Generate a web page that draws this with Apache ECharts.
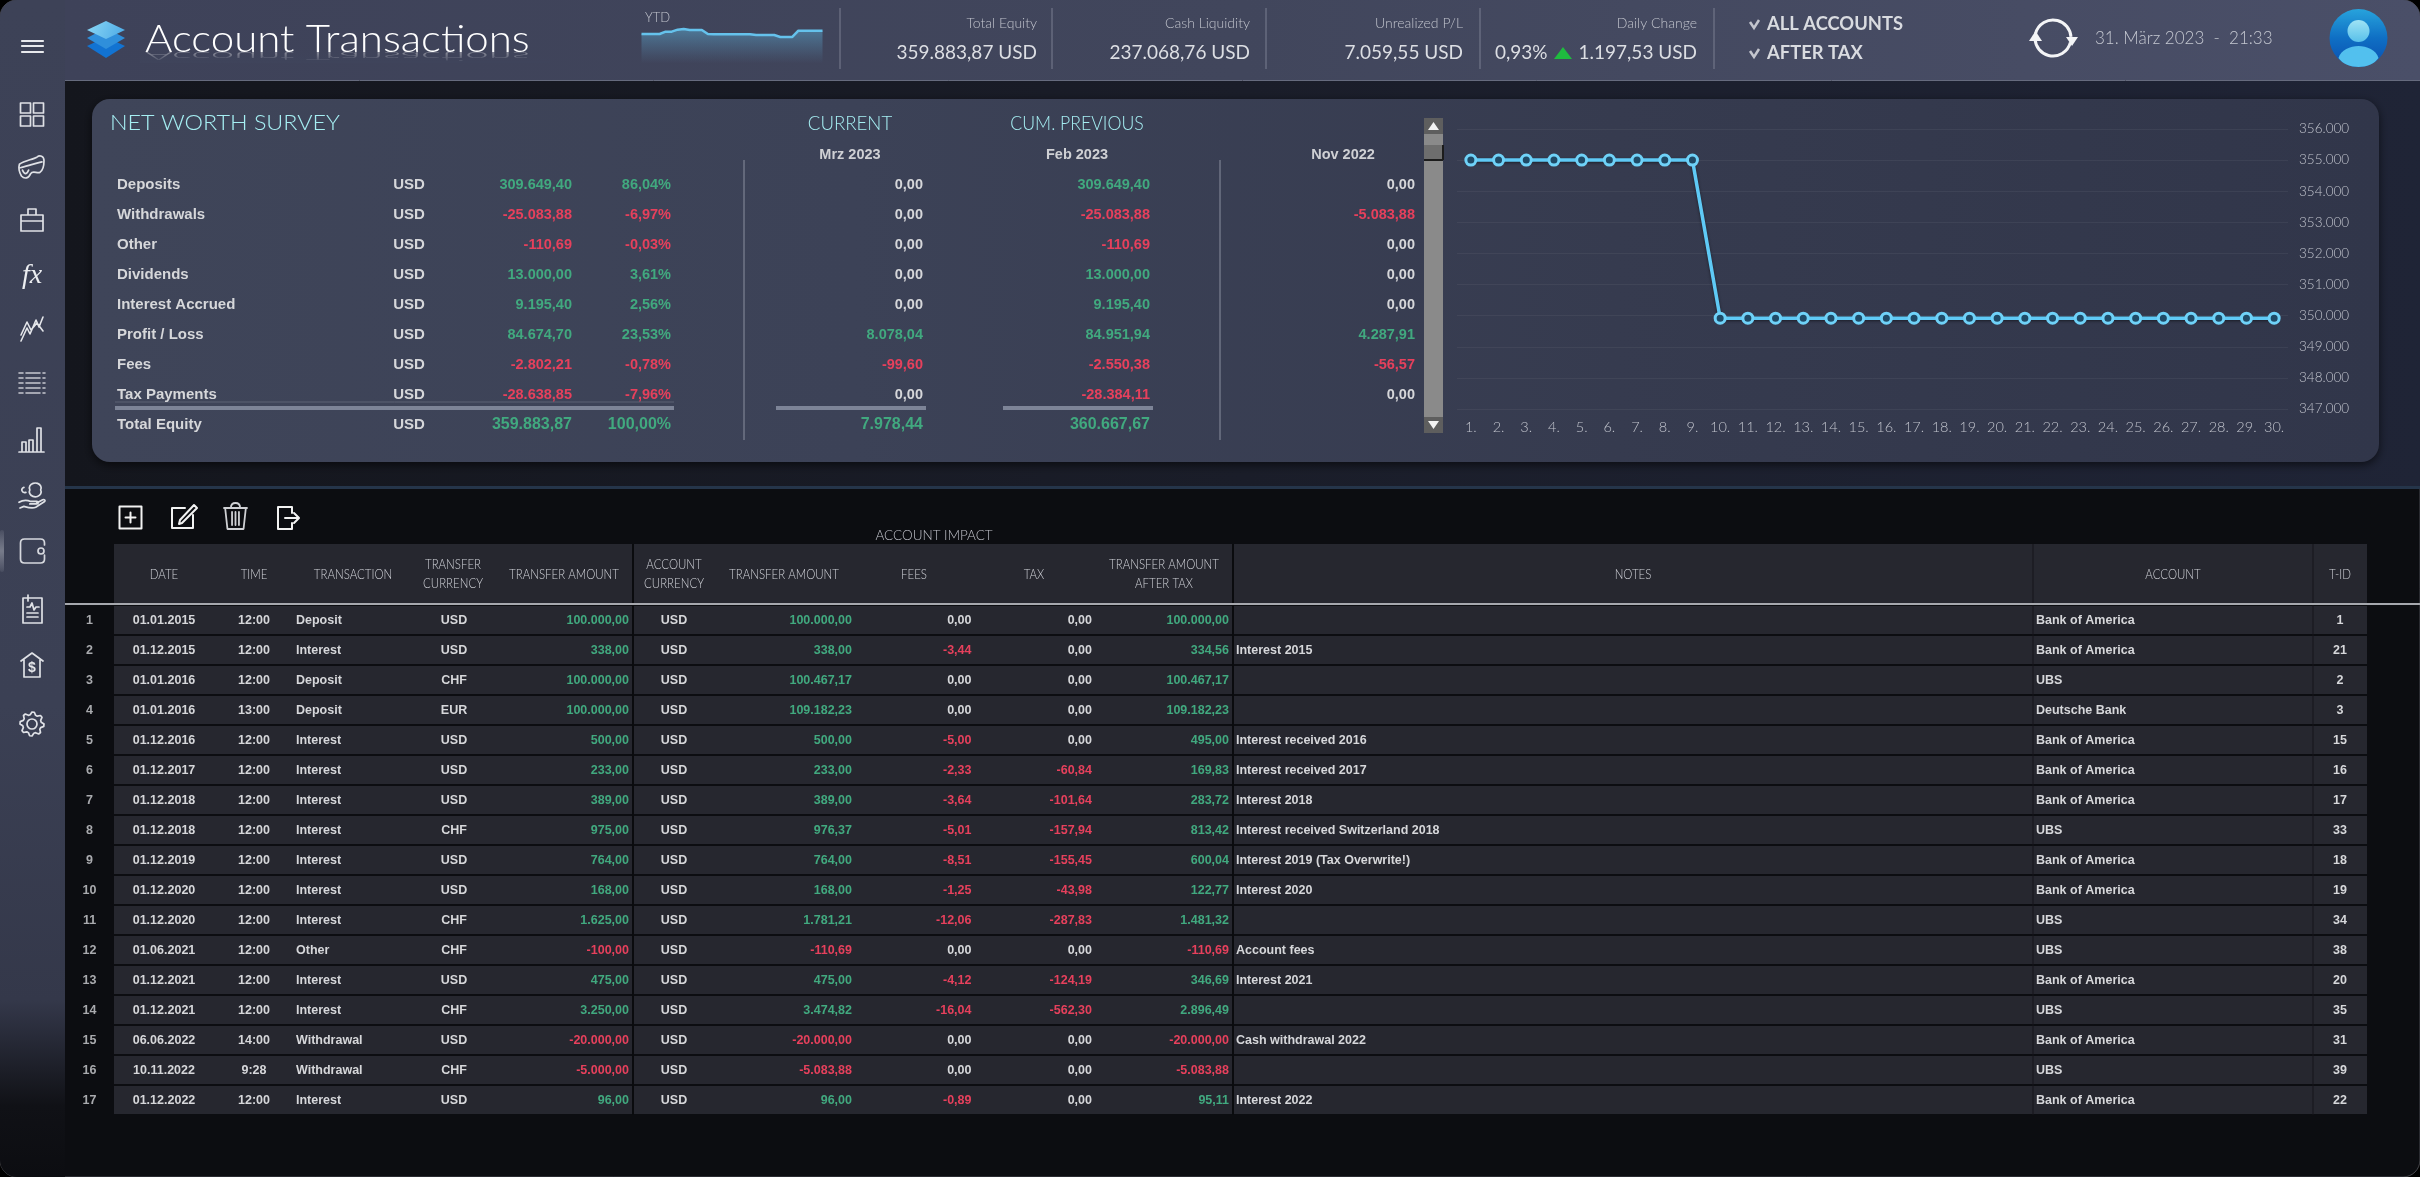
<!DOCTYPE html>
<html>
<head>
<meta charset="utf-8">
<style>
html, body { margin: 0; padding: 0; background: #000; }
#app { width: 2420px; height: 1177px; }
</style>
<script src="https://cdn.jsdelivr.net/npm/echarts@6/dist/echarts.min.js"></script>
</head>
<body>
<div id="app"></div>
<script>
// ---- data ----
var kpiLabels = ['Total Equity', 'Cash Liquidity', 'Unrealized P/L', 'Daily Change'];
var kpiValues = ['359.883,87 USD', '237.068,76 USD', '7.059,55 USD', '1.197,53 USD'];
var dailyPct = '0,93%';
var filterLabels = ['ALL ACCOUNTS', 'AFTER TAX'];
var dateText = '31. März 2023  -  21:33';

var ytdDays = ['1', '2', '3', '4', '5', '6', '7', '8', '9', '10', '11', '12', '13', '14', '15', '16', '17', '18', '19', '20', '21', '22', '23', '24', '25', '26', '27', '28', '29', '30', '31'];
var ytdValues = [353, 353, 353, 353, 360, 360, 366, 368, 365, 365, 365, 353, 352, 352, 352, 352, 352, 352, 352, 350, 350, 350, 350, 344, 344, 344, 363, 363, 363, 363, 363];

var surveyLabels = ['Deposits', 'Withdrawals', 'Other', 'Dividends', 'Interest Accrued', 'Profit / Loss', 'Fees', 'Tax Payments', 'Total Equity'];
var surveyTotal = [309649.40, -25083.88, -110.69, 13000.00, 9195.40, 84674.70, -2802.21, -28638.85, 359883.87];
var surveyPct = [86.04, -6.97, -0.03, 3.61, 2.56, 23.53, -0.78, -7.96, 100.00];
var surveyCurrent = [0, 0, 0, 0, 0, 8078.04, -99.60, 0, 7978.44];
var surveyPrevious = [309649.40, -25083.88, -110.69, 13000.00, 9195.40, 84951.94, -2550.38, -28384.11, 360667.67];
var surveyNov = [0, -5083.88, 0, 0, 0, 4287.91, -56.57, 0, null];

var dayLabels = ['1.', '2.', '3.', '4.', '5.', '6.', '7.', '8.', '9.', '10.', '11.', '12.', '13.', '14.', '15.', '16.', '17.', '18.', '19.', '20.', '21.', '22.', '23.', '24.', '25.', '26.', '27.', '28.', '29.', '30.'];
var equityValues = [355000, 355000, 355000, 355000, 355000, 355000, 355000, 355000, 355000, 349920, 349920, 349920, 349920, 349920, 349920, 349920, 349920, 349920, 349920, 349920, 349920, 349920, 349920, 349920, 349920, 349920, 349920, 349920, 349920, 349920];

var trDate = ['01.01.2015', '01.12.2015', '01.01.2016', '01.01.2016', '01.12.2016', '01.12.2017', '01.12.2018', '01.12.2018', '01.12.2019', '01.12.2020', '01.12.2020', '01.06.2021', '01.12.2021', '01.12.2021', '06.06.2022', '10.11.2022', '01.12.2022'];
var trTime = ['12:00', '12:00', '12:00', '13:00', '12:00', '12:00', '12:00', '12:00', '12:00', '12:00', '12:00', '12:00', '12:00', '12:00', '14:00', '9:28', '12:00'];
var trType = ['Deposit', 'Interest', 'Deposit', 'Deposit', 'Interest', 'Interest', 'Interest', 'Interest', 'Interest', 'Interest', 'Interest', 'Other', 'Interest', 'Interest', 'Withdrawal', 'Withdrawal', 'Interest'];
var trCurrency = ['USD', 'USD', 'CHF', 'EUR', 'USD', 'USD', 'USD', 'CHF', 'USD', 'USD', 'CHF', 'CHF', 'USD', 'CHF', 'USD', 'CHF', 'USD'];
var trAmount = [100000, 338, 100000, 100000, 500, 233, 389, 975, 764, 168, 1625, -100, 475, 3250, -20000, -5000, 96];
var trAmountUsd = [100000, 338, 100467.17, 109182.23, 500, 233, 389, 976.37, 764, 168, 1781.21, -110.69, 475, 3474.82, -20000, -5083.88, 96];
var trFees = [0, -3.44, 0, 0, -5, -2.33, -3.64, -5.01, -8.51, -1.25, -12.06, 0, -4.12, -16.04, 0, 0, -0.89];
var trTax = [0, 0, 0, 0, 0, -60.84, -101.64, -157.94, -155.45, -43.98, -287.83, 0, -124.19, -562.30, 0, 0, 0];
var trAfterTax = [100000, 334.56, 100467.17, 109182.23, 495, 169.83, 283.72, 813.42, 600.04, 122.77, 1481.32, -110.69, 346.69, 2896.49, -20000, -5083.88, 95.11];
var trNotes = ['', 'Interest 2015', '', '', 'Interest received 2016', 'Interest received 2017', 'Interest 2018', 'Interest received Switzerland 2018', 'Interest 2019 (Tax Overwrite!)', 'Interest 2020', '', 'Account fees', 'Interest 2021', '', 'Cash withdrawal 2022', '', 'Interest 2022'];
var trAccount = ['Bank of America', 'Bank of America', 'UBS', 'Deutsche Bank', 'Bank of America', 'Bank of America', 'Bank of America', 'UBS', 'Bank of America', 'Bank of America', 'UBS', 'UBS', 'Bank of America', 'UBS', 'Bank of America', 'UBS', 'Bank of America'];
var trId = [1, 21, 2, 3, 15, 16, 17, 33, 18, 19, 34, 38, 20, 35, 31, 39, 22];

var headTitles = [['DATE'], ['TIME'], ['TRANSACTION'], ['TRANSFER', 'CURRENCY'], ['TRANSFER AMOUNT'], ['ACCOUNT', 'CURRENCY'], ['TRANSFER AMOUNT'], ['FEES'], ['TAX'], ['TRANSFER AMOUNT', 'AFTER TAX'], ['NOTES'], ['ACCOUNT'], ['T-ID']];

// ---- layout and style ----
var headX = [164, 254, 353, 453, 564, 674, 784, 914, 1034, 1164, 1633, 2173, 2340];
var GREEN = '#41a97f', RED = '#e6405c', PLAIN = '#d6d7da', GREY = '#b4b7c1';
var CYAN = '#a6eff3';
var THIN = 'Lato';
var BOLD = '"Liberation Sans"';

function fmt(v) {
    var s = Math.abs(v).toFixed(2).split('.');
    return (v < 0 ? '-' : '') + s[0].replace(/\B(?=(\d{3})+$)/g, '.') + ',' + s[1];
}
function signColor(v) {
    return v > 0 ? GREEN : (v < 0 ? RED : PLAIN);
}
function T(text, x, y, font, fill, align, sx) {
    return {
        type: 'text', x: x, y: y, scaleX: sx || 1, z: -2, silent: true,
        style: { text: text, font: font, fill: fill, align: align || 'left', verticalAlign: 'middle' }
    };
}
function box(x, y, w, h, r, fill, extra, z) {
    var el = { type: 'rect', z: z === undefined ? -8 : z, silent: true, shape: { x: x, y: y, width: w, height: h, r: r }, style: { fill: fill } };
    if (extra) { for (var k in extra) el.style[k] = extra[k]; }
    return el;
}
function grad(x2, y2, stops) {
    return new echarts.graphic.LinearGradient(0, 0, x2, y2, stops.map(function (c, i) {
        return { offset: i / (stops.length - 1), color: c };
    }));
}
function rule(x1, y1, x2, y2, color, w, z) {
    return { type: 'line', z: z === undefined ? -3 : z, silent: true, shape: { x1: x1, y1: y1, x2: x2, y2: y2 }, style: { stroke: color, lineWidth: w } };
}
function poly(points, fill) {
    return { type: 'polygon', z: -3, silent: true, shape: { points: points }, style: { fill: fill } };
}

// background, bars and panel
var sideFill = new echarts.graphic.LinearGradient(0, 0, 0, 1, [
    { offset: 0, color: '#3d4257' }, { offset: 0.6, color: '#3b4054' }, { offset: 0.85, color: '#34384a' },
    { offset: 0.94, color: '#101116' }, { offset: 1, color: '#0c0d11' }
]);
var chrome = [
    box(0, 0, 2420, 1177, 0, '#000'),
    box(0, 0, 2420, 1177, 17, '#0c0d11', { stroke: 'rgba(190,190,200,0.35)', lineWidth: 1 }),
    box(65, 81, 2355, 408, 0, grad(1, 0, ['#14161d', '#1a1d29', '#1f2436'])),
    box(65, 486, 2355, 3, 0, '#25354a'),
    box(0, 0, 65, 1177, [17, 0, 0, 17], sideFill),
    box(65, 0, 2355, 80, [0, 17, 0, 0], grad(1, 0, ['#3e4259', '#41465c', '#4a4f68'])),
    rule(65, 80.5, 2420, 80.5, '#666b7e', 1),
    box(0, 530, 4, 42, 2, grad(0, 1, ['rgba(125,129,144,0.2)', '#777b8a', 'rgba(125,129,144,0.2)'])),
    box(92, 99, 2287, 363, 18, grad(1, 0, ['#3f4559', '#3c4257', '#363b4f', '#31364a']), { shadowBlur: 10, shadowColor: 'rgba(0,0,0,0.6)', shadowOffsetY: 3 }),
    box(114, 544, 2253, 60, 0, '#26272f')
];

// top bar texts
var topX = [1037, 1250, 1463, 1697];
var kpiSep = [840, 1052, 1266, 1480, 1714];
kpiSep.forEach(function (x) { chrome.push(rule(x, 8, x, 69, '#7b7f91', 1)); });
kpiLabels.forEach(function (t, i) {
    chrome.push(T(t, topX[i], 23, '300 14px ' + THIN, '#c0c3cc', 'right'));
    chrome.push(T(kpiValues[i], topX[i], 53, '400 20px ' + THIN, '#dcdee3', 'right', 0.95));
});
chrome.push(T(dailyPct, 1495, 53, '400 20px ' + THIN, '#dcdee3', 'left', 0.95));
chrome.push(poly([[1554, 59], [1572, 59], [1563, 47]], '#1fbb3f'));
filterLabels.forEach(function (t, i) {
    var y = i ? 53 : 24;
    chrome.push(T(t, 1767, y, '700 18px ' + THIN, '#d9dbe0', 'left', 1.02));
    chrome.push({ type: 'polyline', z: -3, silent: true, shape: { points: [[1750, y - 2], [1754, y + 4], [1759, y - 4]] }, style: { stroke: '#c4c6ce', lineWidth: 2.5, fill: 'none' } });
});
chrome.push(T(dateText, 2095, 39, '300 17px ' + THIN, '#c5c8d1'));
chrome.push(T('YTD', 645, 18, '300 13px ' + THIN, '#c0c3cc'));

// title with its reflection
chrome.push(T('Account Transactions', 145, 40, '300 38px ' + THIN, '#ffffff', 'left', 1.105));
chrome.push({
    type: 'text', x: 145, y: 55.5, scaleX: 1.105, scaleY: -0.3, z: -3, silent: true,
    style: { text: 'Account Transactions', font: '300 38px ' + THIN, fill: 'rgba(255,255,255,0.35)', verticalAlign: 'middle' }
});
chrome.push(box(140, 53, 410, 10, 0, grad(0, 1, ['rgba(63,68,91,0)', '#3f445b']), null, -2.5));

// logo
chrome.push(poly([[87, 46], [106, 37], [125, 46], [106, 58]], '#1273d2'));
chrome.push(poly([[87, 38], [106, 28], [125, 38], [106, 49]], '#2f8fdb'));
chrome.push(poly([[87, 30], [106, 21], [125, 30], [106, 39]], grad(1, 1, ['#8bd8f5', '#4aa9e6'])));

// survey headings and rules
chrome.push(T('NET WORTH SURVEY', 110, 123.5, '300 21px ' + THIN, CYAN, 'left', 1.11));
chrome.push(T('CURRENT', 850, 123.5, '300 19px ' + THIN, CYAN, 'center', 0.98));
chrome.push(T('CUM. PREVIOUS', 1077, 123.5, '300 19px ' + THIN, CYAN, 'center', 0.93));
['Mrz 2023', 'Feb 2023', 'Nov 2022'].forEach(function (t, i) {
    chrome.push(T(t, [850, 1077, 1343][i], 154.5, 'bold 14.5px ' + BOLD, '#cfd0d4', 'center'));
});
chrome.push(rule(744, 160, 744, 440, '#8a8f9f', 1));
chrome.push(rule(1220, 160, 1220, 440, '#8a8f9f', 1));
chrome.push(rule(115, 402, 674, 402, '#5c6274', 1));
chrome.push(box(115, 406, 559, 4, 0, '#7d8497', null, -3));
chrome.push(box(776, 406, 150, 4, 0, '#7d8497', null, -3));
chrome.push(box(1003, 406, 150, 4, 0, '#7d8497', null, -3));

// scrollbar of the survey table
chrome.push(box(1424, 118, 19, 315, 0, '#8a8a8a', null, -3));
chrome.push(box(1424, 118, 19, 16, 0, '#5e5e5e', null, -3));
chrome.push(box(1424, 417, 19, 16, 0, '#5e5e5e', null, -3));
chrome.push(box(1424, 145, 19, 15, 0, '#6e6e6e', null, -3));
chrome.push(rule(1424, 160, 1443, 160, '#1c1c1c', 2));
chrome.push(rule(1443, 145, 1443, 160, '#1c1c1c', 2));
chrome.push(poly([[1428, 130], [1439, 130], [1433.5, 122]], '#f2f2f2'));
chrome.push(poly([[1428, 421], [1439, 421], [1433.5, 429]], '#f2f2f2'));

// table heading
chrome.push(T('ACCOUNT IMPACT', 934, 536, '300 13.5px ' + THIN, '#c0c2c9', 'center'));
headTitles.forEach(function (lines, i) {
    lines.forEach(function (t, k) {
        var y = lines.length === 2 ? 565 + k * 19 : 574.5;
        chrome.push(T(t, headX[i], y, '300 13.5px ' + THIN, '#d0d2d8', 'center', 0.85));
    });
});
[[633, '#0a0b0e', 2], [1233, '#0a0b0e', 2], [2033, '#14151a', 1], [2313, '#14151a', 1]].forEach(function (d) {
    chrome.push(rule(d[0], 544, d[0], 1115, d[1], d[2], 5));
});
chrome.push(rule(65, 604, 2420, 604, '#a6a8ae', 2, 5));

// refresh symbol and avatar
var ARC = { stroke: '#f4f5f7', lineWidth: 3, fill: 'none' };
chrome.push({ type: 'arc', z: -3, silent: true, shape: { cx: 2053, cy: 38, r: 18, startAngle: -Math.PI * 0.92, endAngle: -Math.PI * 0.02, clockwise: true }, style: ARC });
chrome.push({ type: 'arc', z: -3, silent: true, shape: { cx: 2053, cy: 38, r: 18, startAngle: Math.PI * 0.08, endAngle: Math.PI * 0.98, clockwise: true }, style: ARC });
chrome.push(poly([[2066, 37], [2078, 37], [2072, 46]], '#f4f5f7'));
chrome.push(poly([[2029, 41], [2042, 41], [2035.5, 31]], '#f4f5f7'));
chrome.push({ type: 'circle', z: -3, silent: true, shape: { cx: 2358.5, cy: 38, r: 29 }, style: { fill: grad(0, 1, ['#27a3dc', '#0f6fc4', '#0a4fb0']) } });
chrome.push({ type: 'circle', z: -3, silent: true, shape: { cx: 2358.5, cy: 31, r: 11 }, style: { fill: grad(0, 1, ['#9fe3f5', '#58c0ea']) } });

// icons go through a custom series so they can use path data
function icon(d, x, y, w, h, color, lw) {
    return {
        type: 'path',
        shape: { pathData: d, x: x, y: y, width: w, height: h, layout: 'cover' },
        style: { stroke: color || '#dfe1e6', lineWidth: lw || 1.7, fill: 'none', lineJoin: 'round', lineCap: 'round' }
    };
}
function gearPath(teeth) {
    var d = '', n = teeth * 4;
    for (var i = 0; i < n; i++) {
        var a = i / n * Math.PI * 2;
        var r = (i % 4 < 2) ? 12 : 9.4;
        d += (i ? 'L' : 'M') + (12 + r * Math.cos(a)).toFixed(2) + ' ' + (12 + r * Math.sin(a)).toFixed(2) + ' ';
    }
    return d + 'Z';
}
var iconEls = [
    icon('M0 0H21M0 5H21M0 11H21', 22, 41, 21, 11, '#e8e9ed', 2.2),
    icon('M0 0H10V10H0ZM13 0H23V10H13ZM0 13H10V23H0ZM13 13H23V23H13Z', 20.5, 103, 23, 23),
    icon('M1 9C6 6 14 5 18 3C21 1 25 2 25 6C25 10 24 14 21 16C18 17 14 14 12 17C10 21 6 22 3 19C1 16 0 12 1 9ZM2 12C7 11 17 8 23 7M4 14C6 18 8 18 10 14', 19, 156, 25, 22),
    icon('M0 6H22V22H0ZM0 12H22M7 6V0H15V6', 21, 209, 22, 22),
    icon('M0 24L6 11L9 17L15 3L18 10L22 0M0 18L6 5L10 13L16 6L22 14', 21, 317, 22, 24, '#e4e6ea', 1.6),
    icon('M0 0H4M7 0H21M24 0H26M0 5H4M7 5H21M24 5H26M0 10H4M7 10H21M24 10H26M0 15H4M7 15H21M24 15H26M0 20H4M7 20H21M24 20H26', 19, 373, 26, 20, '#c6c8cf', 1.6),
    icon('M0 24H25M3 24V14H7V24M10 24V12H14V24M18 24V0H22V24', 19, 428, 25, 24),
    icon('M0 18C4 15 8 15 12 17H18C20 17 20 20 18 20H11M18 19L24 15C26 14 27 16 26 17L17 24C13 26 8 24 5 23L1 25M11 3A6 6 0 1 0 22 3A6 6 0 1 0 11 3M5 0A3 3 0 0 0 7 6', 19, 483, 26, 25),
    icon('M24 6V4Q24 0 20 0H4Q0 0 0 4V20Q0 24 4 24H20Q24 24 24 20V16', 20.5, 539, 24, 24, '#d6d8de'),
    { type: 'circle', shape: { cx: 41, cy: 551, r: 3 }, style: { stroke: '#d6d8de', lineWidth: 1.7, fill: 'none' } },
    icon('M0 3H19V28H0ZM5 0V6M4 12H7L9 8L11 15L13 12H16M4 18H15M4 22H15', 23, 595, 19, 28),
    icon('M0 8L11 0L22 8M3 7V24H19V7', 21, 653, 22, 24),
    icon(gearPath(8), 20, 712, 24, 24),
    { type: 'circle', shape: { cx: 32, cy: 724, r: 5 }, style: { stroke: '#dfe1e6', lineWidth: 1.7, fill: 'none' } },
    { type: 'text', style: { text: '$', x: 32, y: 668, font: 'bold 14px ' + BOLD, fill: '#e6e7eb', align: 'center', verticalAlign: 'middle' } },
    { type: 'text', style: { text: 'fx', x: 32, y: 276, font: 'italic 28px "Liberation Serif"', fill: '#eceef1', align: 'center', verticalAlign: 'middle' } },
    icon('M0 0H22V22H0ZM11 6V16M6 11H16', 119.5, 506.5, 22, 22, '#f2f2f2', 2),
    icon('M0 4H13M0 4V24H21V11M8 16L22 1L25 4L10 19L7 20Z', 172, 505, 25, 23, '#f2f2f2', 2),
    icon('M2 5H22M8 5Q8 0 12 0Q16 0 16 5M3 5L5 26H19L21 5M9 9V22M12 9V22M15 9V22', 224, 503, 23, 26, '#cfd0d4', 1.8),
    icon('M14 6V0H0V22H14V16M7 11H20M16 6L21 11L16 16', 278, 507, 21, 22, '#f2f2f2', 2),
    // avatar shoulders
    {
        type: 'path',
        shape: { pathData: 'M0 12C2 4 12 0 20 0C28 0 38 4 40 12C36 18 28 21 20 21C12 21 4 18 0 12Z', x: 2338.5, y: 46, width: 40, height: 21, layout: 'cover' },
        style: { fill: '#52c0ee' }
    }
];

// ---- table cells ----
function cell(api, col, row, text, font, fill, align) {
    var p = api.coord([col, row]);
    return { type: 'text', style: { text: text, x: p[0], y: p[1], font: font, fill: fill, align: align, verticalAlign: 'middle' } };
}
function renderSurvey(params, api) {
    var r = api.value(1);
    var last = r === surveyLabels.length - 1;
    var size = last ? 16 : 14.5;
    var font = 'bold ' + size + 'px ' + BOLD;
    var out = [
        cell(api, 117, r, surveyLabels[r], 'bold 15px ' + BOLD, PLAIN, 'left'),
        cell(api, 409, r, 'USD', 'bold 15px ' + BOLD, PLAIN, 'center'),
        cell(api, 572, r, fmt(surveyTotal[r]), font, signColor(surveyTotal[r]), 'right'),
        cell(api, 671, r, fmt(surveyPct[r]) + '%', font, signColor(surveyPct[r]), 'right'),
        cell(api, 923, r, fmt(surveyCurrent[r]), font, signColor(surveyCurrent[r]), 'right'),
        cell(api, 1150, r, fmt(surveyPrevious[r]), font, signColor(surveyPrevious[r]), 'right')
    ];
    if (surveyNov[r] !== null) {
        out.push(cell(api, 1415, r, fmt(surveyNov[r]), font, signColor(surveyNov[r]), 'right'));
    }
    return { type: 'group', children: out };
}
function renderTrans(params, api) {
    var r = api.value(1);
    var font = 'bold 12.5px ' + BOLD;
    var y = api.coord([114, r]);
    var h = api.size([0, 1])[1];
    return {
        type: 'group',
        children: [
            { type: 'rect', shape: { x: 114, y: y[1] - h / 2 + 0.5, width: 2253, height: h - 2 }, style: { fill: '#26272f' } },
            cell(api, 89.5, r, String(r + 1), font, '#a9aaae', 'center'),
            cell(api, 164, r, trDate[r], font, PLAIN, 'center'),
            cell(api, 254, r, trTime[r], font, PLAIN, 'center'),
            cell(api, 296, r, trType[r], font, PLAIN, 'left'),
            cell(api, 454, r, trCurrency[r], font, PLAIN, 'center'),
            cell(api, 629, r, fmt(trAmount[r]), font, signColor(trAmount[r]), 'right'),
            cell(api, 674, r, 'USD', font, PLAIN, 'center'),
            cell(api, 852, r, fmt(trAmountUsd[r]), font, signColor(trAmountUsd[r]), 'right'),
            cell(api, 971.5, r, fmt(trFees[r]), font, signColor(trFees[r]), 'right'),
            cell(api, 1092, r, fmt(trTax[r]), font, signColor(trTax[r]), 'right'),
            cell(api, 1229, r, fmt(trAfterTax[r]), font, signColor(trAfterTax[r]), 'right'),
            cell(api, 1236, r, trNotes[r], font, PLAIN, 'left'),
            cell(api, 2036, r, trAccount[r], font, PLAIN, 'left'),
            cell(api, 2340, r, String(trId[r]), font, PLAIN, 'center')
        ]
    };
}
function rowData(names) {
    return names.map(function (n, i) { return [0, i]; });
}
function pageAxis(index) {
    return { type: 'value', gridIndex: index, min: 0, max: 2420, show: false };
}
function rowAxis(index, names) {
    return { type: 'category', gridIndex: index, data: names, inverse: true, show: false };
}

var chart = echarts.init(document.getElementById('app'));
chart.setOption({
    animation: false,
    backgroundColor: 'transparent',
    textStyle: { fontFamily: THIN },
    graphic: { elements: chrome },
    grid: [
        { left: 641.5, top: 28.3, width: 181, height: 35 },
        { left: 1457, top: 129, width: 831, height: 280 },
        { left: 0, width: 2420, top: 170, height: 270 },
        { left: 0, width: 2420, top: 605.5, height: 510 }
    ],
    xAxis: [
        { type: 'category', gridIndex: 0, data: ytdDays, boundaryGap: false, show: false },
        {
            type: 'category', gridIndex: 1, data: dayLabels,
            axisLine: { show: false }, axisTick: { show: false },
            axisLabel: { interval: 0, margin: 11, color: '#c0c3cc', fontSize: 14.5, fontWeight: 300, fontFamily: THIN }
        },
        pageAxis(2),
        pageAxis(3)
    ],
    yAxis: [
        { type: 'value', gridIndex: 0, min: 265, max: 370, show: false },
        {
            type: 'value', gridIndex: 1, position: 'right', min: 347000, max: 356000, interval: 1000,
            axisLine: { show: false }, axisTick: { show: false },
            splitLine: { lineStyle: { color: 'rgba(255,255,255,0.05)', width: 1 } },
            axisLabel: {
                margin: 11, color: '#c0c3cc', fontSize: 13.5, fontWeight: 300, fontFamily: THIN,
                formatter: function (v) { return fmt(v).split(',')[0]; }
            }
        },
        rowAxis(2, surveyLabels),
        rowAxis(3, trDate)
    ],
    series: [
        {
            name: 'YTD', type: 'line', xAxisIndex: 0, yAxisIndex: 0, data: ytdValues,
            symbol: 'none', lineStyle: { color: '#65c2ec', width: 2.5 },
            areaStyle: { color: grad(0, 1, ['rgba(90,170,210,0.75)', 'rgba(90,150,190,0)']) }
        },
        {
            name: 'Equity', type: 'line', xAxisIndex: 1, yAxisIndex: 1, data: equityValues,
            symbol: 'circle', symbolSize: 10, showAllSymbol: true,
            lineStyle: { color: '#5fcaf6', width: 3.5, shadowColor: 'rgba(0,0,0,0.5)', shadowBlur: 3, shadowOffsetY: 1 },
            itemStyle: { color: '#1f4a66', borderColor: '#6fd2f8', borderWidth: 3 }
        },
        { type: 'custom', name: 'survey', xAxisIndex: 2, yAxisIndex: 2, data: rowData(surveyLabels), renderItem: renderSurvey, silent: true },
        { type: 'custom', name: 'transactions', xAxisIndex: 3, yAxisIndex: 3, data: rowData(trDate), renderItem: renderTrans, silent: true, z: 1 },
        { type: 'custom', name: 'icons', xAxisIndex: 3, yAxisIndex: 3, data: [[0, 0]], silent: true, renderItem: function () { return { type: 'group', children: iconEls }; } }
    ]
});
</script>
</body>
</html>
